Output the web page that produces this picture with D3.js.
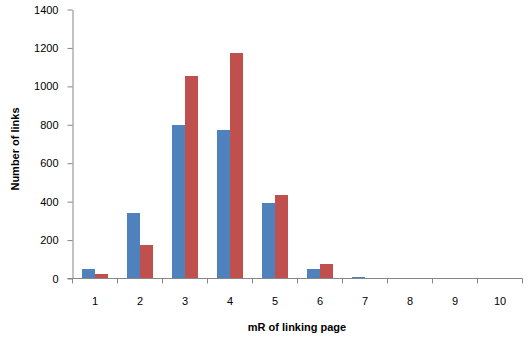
<!DOCTYPE html>
<html><head><meta charset="utf-8">
<script src="https://cdn.jsdelivr.net/npm/d3@7"></script>
<style>body{margin:0;background:#fff}svg{display:block}</style>
</head><body>
<script>
const categories = ["1","2","3","4","5","6","7","8","9","10"];
const seriesA = [52, 339, 798, 772, 391, 47, 10, 0, 0, 0];
const seriesB = [26, 172, 1053, 1173, 433, 78, 4, 0, 0, 0];
const yTicks = [0, 200, 400, 600, 800, 1000, 1200, 1400];
const colors = ["#4F81BD", "#C0504D"];

(function () {
const W = 531, H = 339;
const svg = d3.select("body").append("svg").attr("width", W).attr("height", H);
const mLeft = 72.5, mRight = 522.5, mTop = 9.5, mBottom = 278.5;
const font = "'Liberation Sans', Arial, sans-serif";

const x = d3.scaleBand().domain(categories).range([mLeft, mRight]).paddingInner(0.4222).paddingOuter(0.2111);
const x1 = d3.scaleBand().domain([0, 1]).range([0, x.bandwidth()]);
const y = d3.scaleLinear().domain([0, 1400]).range([mBottom, mTop]);

const data = categories.map((c, i) => ({c, v: [seriesA[i], seriesB[i]]}));
const g = svg.append("g").attr("shape-rendering", "crispEdges");
data.forEach(d => {
  d.v.forEach((v, j) => {
    g.append("rect")
      .attr("x", x(d.c) + x1(j))
      .attr("width", x1.bandwidth())
      .attr("y", y(v))
      .attr("height", y(0) - y(v))
      .attr("fill", colors[j]);
  });
});

const yAx = svg.append("g").attr("transform", `translate(${mLeft},0)`)
  .call(d3.axisLeft(y).tickValues(yTicks).tickFormat(d3.format("d")).tickSize(5).tickSizeOuter(0).tickPadding(9));
yAx.select(".domain").attr("stroke", "#868686");
yAx.selectAll(".tick line").attr("stroke", "#868686");
yAx.selectAll("text").attr("font-family", font).attr("font-size", 11).attr("fill", "#000");

const xLin = d3.scaleLinear().domain([0, 10]).range([mLeft, mRight]);
const xAx = svg.append("g").attr("transform", `translate(0,${mBottom})`);
xAx.append("line").attr("x1", mLeft - 5).attr("x2", mRight).attr("stroke", "#868686");
d3.range(11).forEach(i => {
  xAx.append("line").attr("x1", xLin(i)).attr("x2", xLin(i)).attr("y1", 0).attr("y2", 5).attr("stroke", "#868686");
});
categories.forEach(c => {
  xAx.append("text").attr("x", x(c) + x.bandwidth() / 2).attr("y", 26)
    .attr("text-anchor", "middle").attr("font-family", font).attr("font-size", 11).attr("fill", "#000").text(c);
});

svg.append("text").attr("x", 297).attr("y", 331).attr("text-anchor", "middle")
  .attr("font-family", font).attr("font-size", 11).attr("font-weight", "bold").text("mR of linking page");
svg.append("text").attr("transform", "translate(19,149) rotate(-90)").attr("text-anchor", "middle")
  .attr("font-family", font).attr("font-size", 11).attr("font-weight", "bold").text("Number of links");
})();
</script>
</body></html>
